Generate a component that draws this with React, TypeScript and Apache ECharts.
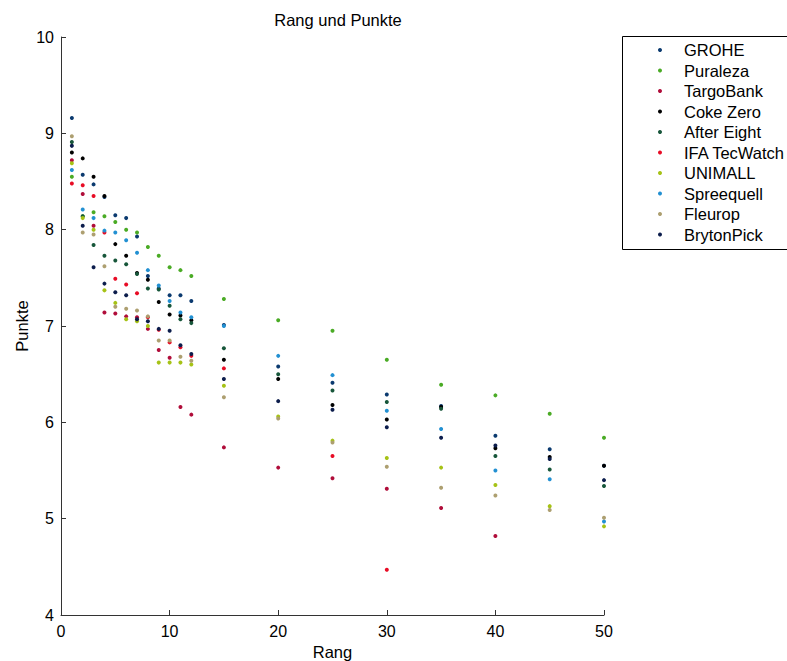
import React, { useEffect, useRef } from "react";
import * as echarts from "echarts";

const ranks = [1, 2, 3, 4, 5, 6, 7, 8, 9, 10, 11, 12, 15, 20, 25, 30, 35, 40, 45, 50];

const seriesNames = ["GROHE", "Puraleza", "TargoBank", "Coke Zero", "After Eight", "IFA TecWatch", "UNIMALL", "Spreequell", "Fleurop", "BrytonPick"];
const seriesColors = ["#0b3a6f", "#4aab25", "#b00d3a", "#000000", "#17563a", "#e80c25", "#a6c216", "#2290d2", "#ad9f70", "#0c1d4c"];

const grohe = [9.16, 8.57, 8.47, 8.34, 8.15, 8.12, 7.93, 7.52, 7.39, 7.32, 7.32, 7.26, 7.01, 6.58, 6.41, 6.29, 6.17, 5.86, 5.72, 5.55];
const puraleza = [8.55, 8.14, 8.18, 8.14, 8.08, 8.0, 7.97, 7.82, 7.73, 7.61, 7.58, 7.52, 7.28, 7.06, 6.95, 6.65, 6.39, 6.28, 6.09, 5.84];
const targobank = [8.72, 8.37, 8.04, 7.14, 7.13, 7.1, 7.09, 6.97, 6.75, 6.67, 6.16, 6.08, 5.74, 5.53, 5.42, 5.31, 5.11, 4.82, null, null];
const cokeZero = [8.8, 8.74, 8.55, 8.35, 7.85, 7.73, 7.55, 7.48, 7.25, 7.12, 7.11, 7.06, 6.65, 6.45, 6.18, 6.03, 6.16, 5.73, 5.64, 5.55];
const afterEight = [8.91, 8.14, 7.84, 7.73, 7.68, 7.64, 7.54, 7.39, 7.38, 7.21, 7.07, 7.03, 6.77, 6.5, 6.33, 6.21, 6.14, 5.65, 5.51, 5.34];
const ifaTecWatch = [8.48, 8.46, 8.35, 7.97, 7.49, 7.43, 7.34, 7.09, 6.96, 6.83, 6.78, 6.69, 6.56, null, 5.65, 4.47, null, null, null, null];
const unimall = [8.69, 8.12, 8.0, 7.37, 7.24, 7.07, 7.05, 7.0, 6.62, 6.62, 6.62, 6.6, 6.38, 6.06, 5.81, 5.63, 5.53, 5.35, 5.13, 4.92];
const spreequell = [8.62, 8.21, 8.12, 7.99, 7.97, 7.89, 7.76, 7.58, 7.42, 7.26, 7.14, 7.09, 7.0, 6.69, 6.49, 6.12, 5.93, 5.5, 5.41, 4.97];
const fleurop = [8.97, 7.97, 7.95, 7.62, 7.2, 7.18, 7.16, 7.1, 6.85, 6.85, 6.68, 6.64, 6.26, 6.04, 5.79, 5.54, 5.32, 5.24, 5.09, 5.01];
const brytonPick = [8.87, 8.04, 7.61, 7.44, 7.35, 7.32, 7.07, 7.05, 6.97, 6.95, 6.8, 6.71, 6.45, 6.22, 6.13, 5.95, 5.84, 5.76, 5.62, 5.4];

const allValues = [grohe, puraleza, targobank, cokeZero, afterEight, ifaTecWatch, unimall, spreequell, fleurop, brytonPick];

const FONT = "'Liberation Sans', Arial, Helvetica, sans-serif";

export default function App() {
  const ref = useRef<HTMLDivElement>(null);
  useEffect(() => {
    if (!ref.current) return;
    const chart = echarts.init(ref.current, null, { renderer: "svg" });
    const series = seriesNames.map((name, i) => ({
      name,
      type: "scatter",
      symbol: "circle",
      symbolSize: 4,
      itemStyle: { color: seriesColors[i], opacity: 1 },
      data: ranks
        .map((r, j) => [r, allValues[i][j]])
        .filter((p) => p[1] !== null && p[1] !== undefined),
    }));
    chart.setOption({
      animation: false,
      backgroundColor: "#ffffff",
      textStyle: { fontFamily: FONT },
      title: {
        text: "Rang und Punkte",
        left: 333,
        top: 6,
        textAlign: "center",
        textStyle: { fontFamily: FONT, fontSize: 16.5, fontWeight: "normal", color: "#000" },
      },
      graphic: [
        {
          type: "rect",
          z: 1,
          shape: { x: 622.5, y: 36.5, width: 200, height: 213 },
          style: { fill: "#fff", stroke: "#000", lineWidth: 1 },
        },
      ],
      legend: {
        orient: "vertical",
        left: 658,
        top: 41.5,
        padding: 0,
        z: 10,
        itemWidth: 38,
        itemHeight: 4,
        itemGap: 3.5,
        icon: "circle",
        textStyle: { fontFamily: FONT, fontSize: 16.5, color: "#000" },
        data: seriesNames,
      },
      grid: { left: 61, right: 183, top: 37, bottom: 46, outerBoundsMode: "none", containLabel: false },
      xAxis: {
        type: "value",
        min: 0,
        max: 50,
        interval: 10,
        name: "Rang",
        nameLocation: "middle",
        nameGap: 27,
        nameTextStyle: { fontFamily: FONT, fontSize: 16.5, color: "#000" },
        axisLine: { show: true, lineStyle: { color: "#333", width: 1 } },
        axisTick: { show: true, inside: true, length: 5, lineStyle: { color: "#333" } },
        axisLabel: { fontFamily: FONT, fontSize: 16, color: "#000", margin: 8 },
        splitLine: { show: false },
      },
      yAxis: {
        type: "value",
        min: 4,
        max: 10,
        interval: 1,
        name: "Punkte",
        nameLocation: "middle",
        nameGap: 31,
        nameMoveOverlap: false,
        nameRotate: 90,
        nameTextStyle: { fontFamily: FONT, fontSize: 16.5, color: "#000" },
        axisLine: { show: true, lineStyle: { color: "#333", width: 1 } },
        axisTick: { show: true, inside: true, length: 5, lineStyle: { color: "#333" } },
        axisLabel: { fontFamily: FONT, fontSize: 16, color: "#000", margin: 7 },
        splitLine: { show: false },
      },
      series,
    });
    return () => chart.dispose();
  }, []);
  return (
    <div
      ref={ref}
      style={{ position: "fixed", left: 0, top: 0, width: 787, height: 661, background: "#fff" }}
    />
  );
}
